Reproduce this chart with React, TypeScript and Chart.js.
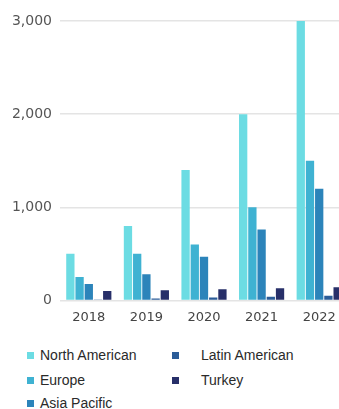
import React, { useEffect, useRef } from "react";
import { Chart, registerables } from "chart.js";

Chart.register(...registerables);

const years = ["2018", "2019", "2020", "2021", "2022"];
const northAmerican = [500, 800, 1400, 2000, 3000];
const europe = [250, 500, 600, 1000, 1500];
const asiaPacific = [175, 280, 470, 760, 1200];
const latinAmerican = [10, 20, 30, 40, 50];
const turkey = [100, 110, 120, 130, 140];
const yMin = 0;
const yMax = 3000;
const yStep = 1000;

const seriesNames = ["North American", "Europe", "Asia Pacific", "Latin American", "Turkey"];
const seriesColors = ["#6CDCE3", "#3FB2D2", "#2C84BA", "#2B5C98", "#272F69"];
const seriesValues = [northAmerican, europe, asiaPacific, latinAmerican, turkey];

export default function App() {
  const canvasRef = useRef<HTMLCanvasElement | null>(null);

  useEffect(() => {
    if (!canvasRef.current) return;
    const chart = new Chart(canvasRef.current, {
      type: "bar",
      data: {
        labels: years,
        datasets: seriesNames.map((name, i) => ({
          label: name,
          data: seriesValues[i],
          backgroundColor: seriesColors[i],
          borderWidth: 0,
        })),
      },
      options: {
        animation: false,
        responsive: true,
        maintainAspectRatio: false,
        layout: { padding: { top: 21, right: 0, left: 0, bottom: 0 } },
        plugins: { legend: { display: false }, tooltip: { enabled: false } },
        scales: {
          x: {
            grid: { display: false, drawTicks: false },
            border: { display: false },
            ticks: {
              color: "#444",
              font: { family: "'DejaVu Sans', sans-serif", size: 13 },
              padding: 9,
            },
          },
          y: {
            min: yMin,
            max: yMax,
            grid: { color: "#e4e4e4", drawTicks: false, lineWidth: 1.5 },
            border: { display: false },
            ticks: {
              stepSize: yStep,
              color: "#555",
              font: { family: "'DejaVu Sans', sans-serif", size: 14 },
              padding: 8,
              callback: (v: any) => Number(v).toLocaleString("en-US"),
            },
            afterFit: (s: any) => {
              s.width = 60;
            },
          },
        },
      },
    });
    return () => chart.destroy();
  }, []);

  const legendItem = (i: number, markerLeft: number, textLeft: number, top: number) => (
    <div key={i} style={{ position: "absolute", left: 0, top, height: 16, width: 339 }}>
      <div
        style={{
          position: "absolute",
          left: markerLeft,
          top: 5,
          width: 7,
          height: 7,
          background: seriesColors[i],
        }}
      />
      <div
        style={{
          position: "absolute",
          left: textLeft,
          top: 0,
          fontFamily: "'Liberation Sans', Arial, sans-serif",
          fontSize: 14,
          lineHeight: "16px",
          color: "#2a2a2a",
          whiteSpace: "nowrap",
        }}
      >
        {seriesNames[i]}
      </div>
    </div>
  );

  return (
    <div
      style={{
        position: "fixed",
        left: 0,
        top: 0,
        width: 339,
        height: 409,
        overflow: "hidden",
        background: "#fff",
      }}
    >
      <div style={{ position: "absolute", left: 0, top: 0, width: 348, height: 334 }}>
        <canvas ref={canvasRef} />
      </div>
      {legendItem(0, 27, 40, 347)}
      {legendItem(1, 27, 40, 372)}
      {legendItem(2, 27, 40, 395)}
      {legendItem(3, 172, 201, 347)}
      {legendItem(4, 172, 201, 372)}
    </div>
  );
}
